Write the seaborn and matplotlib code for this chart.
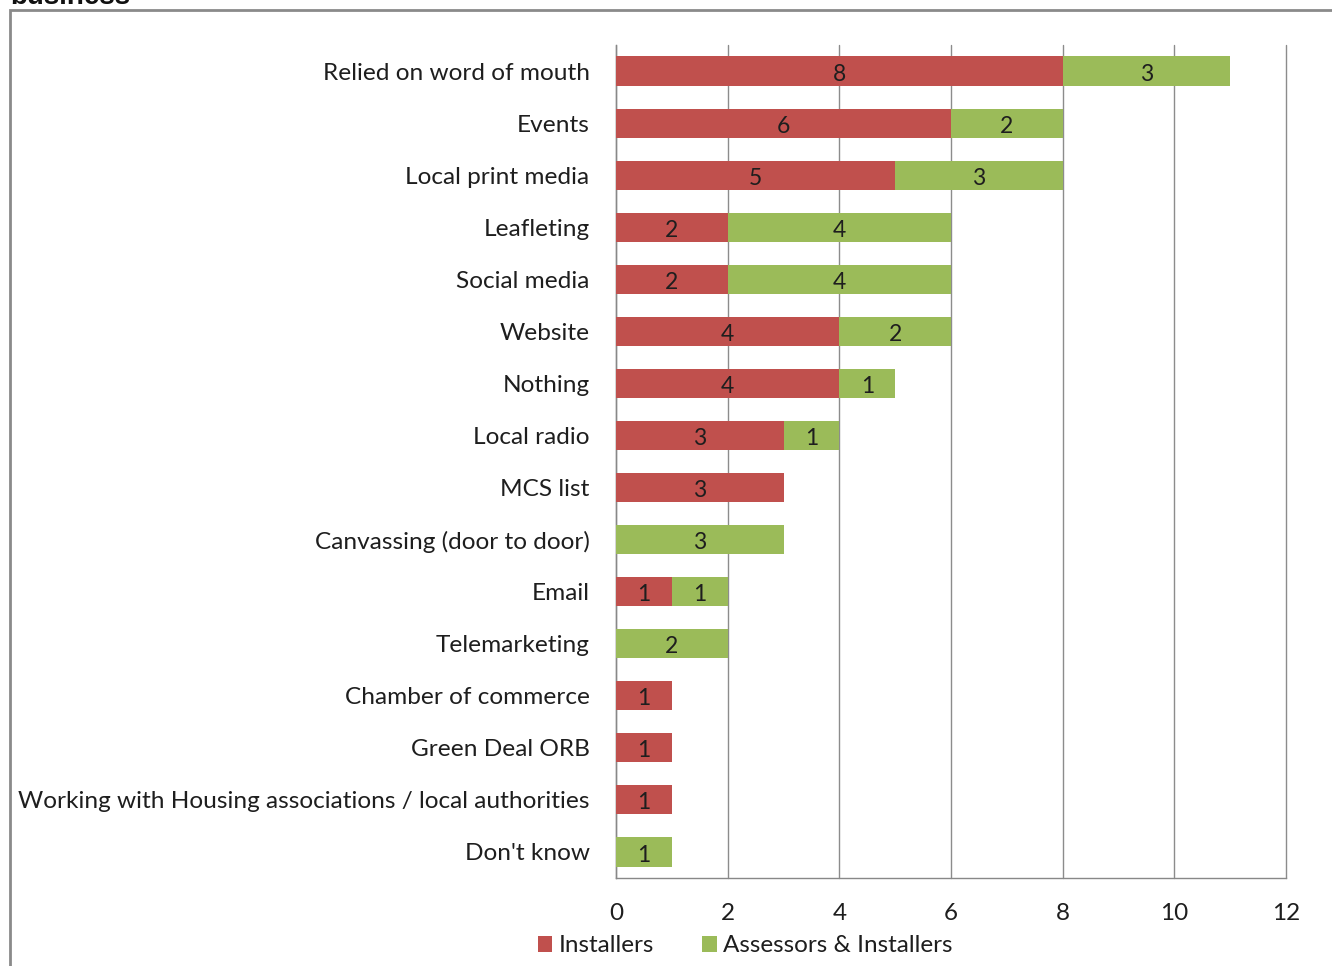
import matplotlib
matplotlib.use("Agg")
import matplotlib.pyplot as plt
from matplotlib.patches import Patch, Rectangle
import seaborn as sns
import pandas as pd

categories = [
    "Relied on word of mouth", "Events", "Local print media", "Leafleting",
    "Social media", "Website", "Nothing", "Local radio", "MCS list",
    "Canvassing (door to door)", "Email", "Telemarketing",
    "Chamber of commerce", "Green Deal ORB",
    "Working with Housing associations / local authorities", "Don't know",
]
installers = [8, 6, 5, 2, 2, 4, 4, 3, 3, 0, 1, 0, 1, 1, 1, 0]
assessors_installers = [3, 2, 3, 4, 4, 2, 1, 1, 0, 3, 1, 2, 0, 0, 0, 1]
series_names = ["Installers", "Assessors & Installers"]
x_ticks = [0, 2, 4, 6, 8, 10, 12]

RED = "#C0504D"
GREEN = "#9BBB59"
TEXT = "#1e1e1e"

sns.set_theme(style="white")
plt.rcParams["font.family"] = ["Lato", "DejaVu Sans"]

df = pd.DataFrame({
    "category": categories,
    "inst": installers,
    "both": assessors_installers,
})
df["total"] = df["inst"] + df["both"]

fig = plt.figure(figsize=(13.32, 9.66), dpi=100)
ax = fig.add_axes([616 / 1332, 1 - 878 / 966, 670 / 1332, 833 / 966])

# stacked bars: green total underneath, red installers share on top
sns.barplot(data=df, y="category", x="total", color=GREEN, saturation=1,
            width=0.56, ax=ax, orient="h", zorder=3, linewidth=0)
sns.barplot(data=df, y="category", x="inst", color=RED, saturation=1,
            width=0.56, ax=ax, orient="h", zorder=4, linewidth=0)

for i, (a, b) in enumerate(zip(installers, assessors_installers)):
    if a > 0:
        ax.text(a / 2, i + 0.02, str(a), ha="center", va="center_baseline",
                fontsize=16.5, color=TEXT, zorder=5)
    if b > 0:
        ax.text(a + b / 2, i + 0.02, str(b), ha="center",
                va="center_baseline", fontsize=16.5, color=TEXT, zorder=5)

ax.set_xlim(0, 12)
ax.set_ylim(len(categories) - 0.5, -0.5)
ax.set_xticks(x_ticks)
ax.set_xticklabels([str(t) for t in x_ticks], fontsize=17.5, color=TEXT)
ax.set_xlabel("")
ax.set_ylabel("")
ax.tick_params(axis="y", which="major", length=0, pad=19, labelsize=17.6,
               labelcolor=TEXT)
ax.set_yticks([i + 0.5 for i in range(-1, len(categories))], minor=True)
ax.tick_params(axis="y", which="minor", length=5, color="#888888", width=1)
ax.tick_params(axis="x", which="major", length=5, color="#888888", width=1,
               direction="out", pad=13)
ax.xaxis.grid(True, color="#8c8c8c", linewidth=1)
for gl in ax.get_xgridlines():
    gl.set_clip_on(False)
ax.set_axisbelow(True)
for side in ["top", "right"]:
    ax.spines[side].set_visible(False)
for side in ["left", "bottom"]:
    ax.spines[side].set_color("#888888")
    ax.spines[side].set_linewidth(1)

handles = [Patch(facecolor=RED, edgecolor="none"),
           Patch(facecolor=GREEN, edgecolor="none")]
fig.legend(handles, series_names, loc="center", ncol=2,
           bbox_to_anchor=(745 / 1332, 1 - 946 / 966), frameon=False,
           fontsize=17.5, handlelength=0.6, handleheight=0.6,
           handletextpad=0.25, columnspacing=2.0, labelcolor=TEXT,
           borderpad=0)

# outer chart frame
fig.patches.append(Rectangle((10 / 1332, -0.1), 1.2, 1 - 10 / 966 + 0.1,
                             transform=fig.transFigure, fill=False,
                             edgecolor="#8a8a8a", linewidth=2))
fig.text(10 / 1332, 1 - 4 / 966, "business", fontsize=20, fontweight="bold",
         family="Liberation Sans", va="baseline", ha="left", color="#111111")

fig.savefig("out.png", dpi=100)
